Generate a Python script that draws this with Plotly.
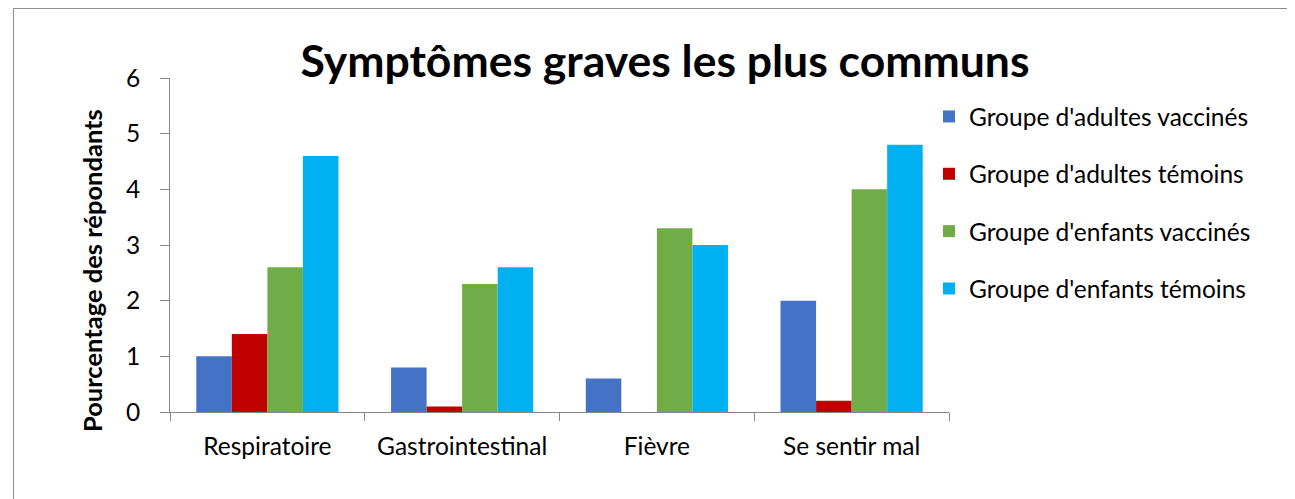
import plotly.graph_objects as go

categories = ["Respiratoire", "Gastrointestinal", "Fièvre", "Se sentir mal"]
series_names = [
    "Groupe d'adultes vaccinés",
    "Groupe d'adultes témoins",
    "Groupe d'enfants vaccinés",
    "Groupe d'enfants témoins",
]
adultes_vaccines = [1.0, 0.8, 0.6, 2.0]
adultes_temoins = [1.4, 0.1, 0.0, 0.2]
enfants_vaccines = [2.6, 2.3, 3.3, 4.0]
enfants_temoins = [4.6, 2.6, 3.0, 4.8]
colors = ["#4472C4", "#C00000", "#70AD47", "#00B0F0"]
y_ticks = [0, 1, 2, 3, 4, 5, 6]

FONT = "Lato"
OFF = 8  # page body margin
W, H = 1295 - OFF, 499 - OFF
L, R, T, B = 170 - OFF, 346, 78 - OFF, 87
pw, ph = W - L - R, H - T - B

fig = go.Figure()
for name, vals, col in zip(series_names,
                           [adultes_vaccines, adultes_temoins, enfants_vaccines, enfants_temoins],
                           colors):
    fig.add_trace(go.Bar(x=categories, y=vals, name=name, marker_color=col,
                         marker_line_width=0, legendgroup=name))

def px_x(p):  # page pixel -> paper
    return (p - OFF - L) / pw

def px_y(p):
    return (H - B - (p - OFF)) / ph

fig.update_layout(
    width=W, height=H,
    margin=dict(l=L, r=R, t=T, b=B, autoexpand=False),
    paper_bgcolor="white", plot_bgcolor="white",
    barmode="group", bargap=0.27, bargroupgap=0,
    font=dict(family=FONT, color="black"),
    title=dict(text="<b>Symptômes graves les plus communs</b>",
               font=dict(family=FONT, size=44.5, color="black"),
               x=(665 - OFF) / W, xanchor="center", y=1 - (61 - OFF) / H, yanchor="middle"),
    legend=dict(x=px_x(929), xanchor="left", y=px_y(94), yanchor="top",
                font=dict(family=FONT, size=24.5, color="black"),
                tracegroupgap=22.5, itemwidth=30, bgcolor="rgba(0,0,0,0)"),
    showlegend=True,
)
fig.update_xaxes(
    type="category", showline=True, linecolor="#868686", linewidth=1,
    ticks="outside", tickson="boundaries", ticklen=8, tickcolor="#868686",
    tickfont=dict(family=FONT, size=24.5, color="black"), showgrid=False,
    ticklabelstandoff=13,
)
fig.update_yaxes(
    range=[0, 6], tickvals=y_ticks, showline=True, linecolor="#868686", linewidth=1,
    ticks="outside", ticklen=9, tickcolor="#868686", showgrid=False, zeroline=False,
    tickfont=dict(family=FONT, size=24.5, color="black"), ticklabelstandoff=15,
)
fig.add_annotation(text="<b>Pourcentage des répondants</b>", textangle=-90,
                   xref="paper", yref="paper", x=px_x(92), y=px_y(271),
                   xanchor="center", yanchor="middle", showarrow=False,
                   font=dict(family=FONT, size=25.5, color="black"))
# outer chart border (left and top visible)
fig.add_shape(type="line", xref="paper", yref="paper",
              x0=px_x(13.5), x1=px_x(1310), y0=px_y(8.5), y1=px_y(8.5),
              line=dict(color="#8C8C8C", width=1))
fig.add_shape(type="line", xref="paper", yref="paper",
              x0=px_x(13.5), x1=px_x(13.5), y0=px_y(8.5), y1=px_y(520),
              line=dict(color="#8C8C8C", width=1))

fig.write_html("out.html")
